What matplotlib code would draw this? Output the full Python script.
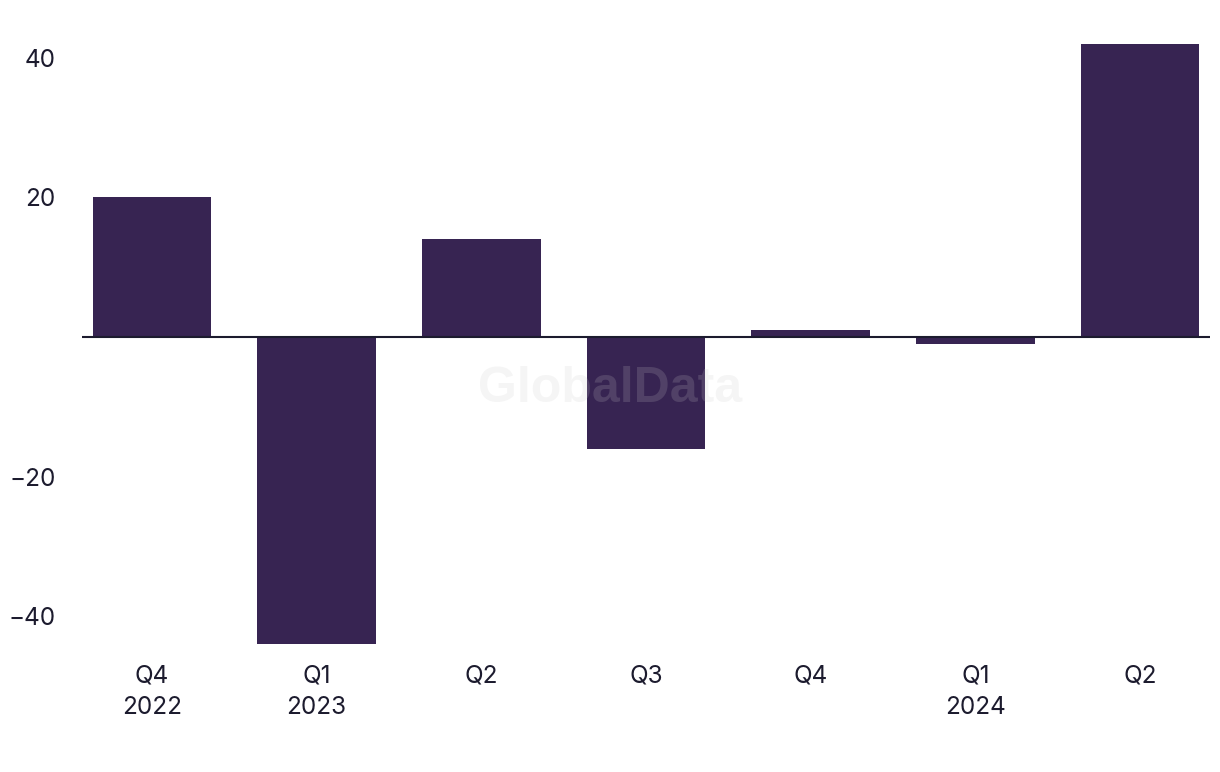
import matplotlib
matplotlib.use("Agg")
import matplotlib.pyplot as plt

# quarter labels and values
quarters = ["Q4\n2022", "Q1\n2023", "Q2", "Q3", "Q4", "Q1\n2024", "Q2"]
values = [20, -44, 14, -16, 1, -1, 42]

bar_color = "#372452"
text_color = "#1c1b2e"

plt.rcParams['font.family'] = ['Inter', 'DejaVu Sans']

fig = plt.figure(figsize=(12.2, 7.72), dpi=100)
ax = fig.add_axes([82 / 1220, 1 - 644 / 772, (1210 - 82) / 1220, 600 / 772])

x = range(len(values))
ax.bar(x, values, width=0.72, color=bar_color, zorder=2)
ax.axhline(0, color=text_color, linewidth=1.5, zorder=3)

ax.set_xlim(-0.425, len(values) - 1 + 0.425)
ax.set_ylim(-44, 42)
ax.set_yticks([-40, -20, 20, 40])
ax.set_yticklabels(["\u221240", "\u221220", "20", "40"])
ax.set_xticks(list(x))
ax.set_xticklabels(quarters, linespacing=1.45)

ax.tick_params(axis="both", length=0, labelsize=17.5, colors=text_color)
ax.tick_params(axis="y", pad=19)
ax.tick_params(axis="x", pad=15)
for s in ax.spines.values():
    s.set_visible(False)

# watermark
ax.text(0.468, 0.425, "GlobalData", transform=ax.transAxes, ha="center", va="center",
        fontsize=36, fontweight="bold", color="#c8c8c8", alpha=0.18, zorder=4,
        family=["Liberation Sans", "DejaVu Sans"])

fig.savefig("out.png", dpi=100)
